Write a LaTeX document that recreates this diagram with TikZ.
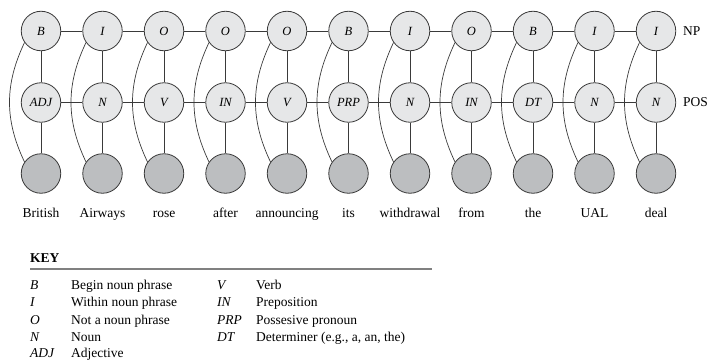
\documentclass[tikz,border=0pt]{standalone}
\usepackage{fontspec}
\setmainfont{Liberation Serif}
\definecolor{lightfill}{HTML}{E6E7E8}
\definecolor{darkfill}{HTML}{BCBEC0}
\definecolor{edgecol}{HTML}{3A3A3A}
\definecolor{rulecol}{HTML}{808080}
\begin{document}
\begin{tikzpicture}[x=1pt,y=-1pt,
  hid/.style={circle,draw=edgecol,line width=0.8pt,fill=lightfill,minimum size=39.5pt,inner sep=0pt,font=\fontsize{12.5}{14}\selectfont\itshape},
  obs/.style={circle,draw=edgecol,line width=0.8pt,fill=darkfill,minimum size=39.5pt,inner sep=0pt},
  link/.style={draw=edgecol,line width=0.8pt},
  arc/.style={draw=edgecol,line width=0.7pt},
  txt/.style={inner sep=0pt,font=\fontsize{13.5}{16}\selectfont},
  keyab/.style={inner sep=0pt,anchor=base west,font=\fontsize{13.5}{16}\selectfont\itshape},
  keyds/.style={inner sep=0pt,anchor=base west,font=\fontsize{13.5}{16}\selectfont}]
\useasboundingbox (0,0) rectangle (720,361);
\foreach \i/\np/\pos/\w in {0/B/ADJ/British,1/I/N/Airways,2/O/V/rose,3/O/IN/after,4/O/V/announcing,5/B/PRP/its,6/I/N/withdrawal,7/O/IN/from,8/B/DT/the,9/I/N/UAL,10/I/N/deal}{
  \pgfmathsetmacro{\cx}{41+61.5*\i}
  \node[hid] (t\i) at (\cx,31) {\np};
  \node[hid] (m\i) at (\cx,102.5) {\pos};
  \node[obs] (b\i) at (\cx,173.5) {};
  \node[txt,anchor=base] (w\i) at (\cx,217) {\w};
  \draw[link] (t\i) -- (m\i);
  \draw[link] (m\i) -- (b\i);
  \draw[arc] (t\i.215) .. controls +(-20,42) and +(-20,-42) .. (b\i.145);
}
\foreach \i [evaluate=\i as \j using int(\i+1)] in {0,...,9}{
  \draw[link] (t\i) -- (t\j);
  \draw[link] (m\i) -- (m\j);
}
\node[txt,anchor=west] (np) at (683,31) {NP};
\node[txt,anchor=west] (pos) at (683,102.5) {POS};
\node[inner sep=0pt,anchor=base west,font=\fontsize{13.5}{16}\selectfont\bfseries] (key) at (30,262) {KEY};
\coordinate (rl) at (30,268.7);
\coordinate (rr) at (432,268.7);
\draw[draw=rulecol,line width=1.6pt] (rl) -- (rr);
\node[keyab] (k1a) at (30,289) {B};
\node[keyds] (k1d) at (71,289) {Begin noun phrase};
\node[keyab] (k2a) at (30,306.5) {I};
\node[keyds] (k2d) at (71,306.5) {Within noun phrase};
\node[keyab] (k3a) at (30,324) {O};
\node[keyds] (k3d) at (71,324) {Not a noun phrase};
\node[keyab] (k4a) at (30,341.5) {N};
\node[keyds] (k4d) at (71,341.5) {Noun};
\node[keyab] (k5a) at (30,357.5) {ADJ};
\node[keyds] (k5d) at (71,357.5) {Adjective};
\node[keyab] (k6a) at (217,289) {V};
\node[keyds] (k6d) at (256,289) {Verb};
\node[keyab] (k7a) at (217,306.5) {IN};
\node[keyds] (k7d) at (256,306.5) {Preposition};
\node[keyab] (k8a) at (217,324) {PRP};
\node[keyds] (k8d) at (256,324) {Possesive pronoun};
\node[keyab] (k9a) at (217,341.5) {DT};
\node[keyds] (k9d) at (256,341.5) {Determiner (e.g., a, an, the)};
\end{tikzpicture}
\end{document}
